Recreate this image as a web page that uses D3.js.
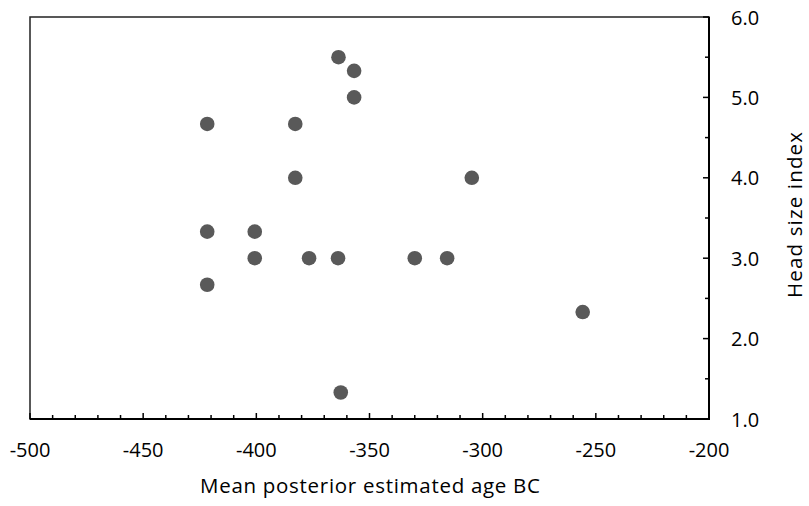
<!DOCTYPE html>
<html>
<head>
<meta charset="utf-8">
<script src="https://cdn.jsdelivr.net/npm/d3@7"></script>
<style>
  html, body { margin: 0; padding: 0; background: #fff; }
  text { font-family: "Open Sans", sans-serif; fill: #000; }
</style>
</head>
<body>
<svg id="chart" width="809" height="506"></svg>
<script>
// Data
const ageBC = [-363.7, -356.8, -356.8, -421.7, -382.8, -382.8, -304.8, -421.7, -400.7, -400.7, -376.7, -363.9, -330.0, -315.7, -421.7, -255.8, -362.7];
const headSize = [5.5, 5.33, 5.0, 4.67, 4.67, 4.0, 4.0, 3.33, 3.33, 3.0, 3.0, 3.0, 3.0, 3.0, 2.67, 2.33, 1.33];
const xTicks = [-500, -450, -400, -350, -300, -250, -200];
const yTicks = [1, 2, 3, 4, 5, 6];
const xTitle = "Mean posterior estimated age BC";
const yTitle = "Head size index";

(function () {
const svg = d3.select("#chart");
const pl = 30, pr = 709, pt = 17, pb = 419;

const x = d3.scaleLinear().domain([-500, -200]).range([pl, pr]);
const y = d3.scaleLinear().domain([1, 6]).range([pb, pt]);

// frame
svg.append("rect")
  .attr("x", pl).attr("y", pt)
  .attr("width", pr - pl).attr("height", pb - pt)
  .attr("fill", "none").attr("stroke", "#222").attr("stroke-width", 1.5);

// X ticks (major every 50, minor every 10) pointing inward
const xMinor = d3.range(-500, -199, 10);
svg.append("g").selectAll("line").data(xMinor).join("line")
  .attr("x1", d => x(d)).attr("x2", d => x(d))
  .attr("y1", pb).attr("y2", d => pb - (d % 50 === 0 ? 6 : 4))
  .attr("stroke", "#000").attr("stroke-width", 1.5);

// Y ticks (major every 1, minor every 0.5) pointing inward from right axis
const yMinor = d3.range(1, 6.01, 0.5);
svg.append("g").selectAll("line").data(yMinor).join("line")
  .attr("x1", pr).attr("x2", d => pr - (Math.abs(d - Math.round(d)) < 1e-6 ? 6 : 4))
  .attr("y1", d => y(d)).attr("y2", d => y(d))
  .attr("stroke", "#000").attr("stroke-width", 1.5);

// Axis lines
svg.append("line").attr("x1", pl).attr("x2", pr + 1).attr("y1", pb).attr("y2", pb)
  .attr("stroke", "#000").attr("stroke-width", 2);
svg.append("line").attr("x1", pr).attr("x2", pr).attr("y1", pt).attr("y2", pb + 1)
  .attr("stroke", "#000").attr("stroke-width", 2);

// X tick labels
svg.append("g").selectAll("text").data(xTicks).join("text")
  .attr("x", d => x(d)).attr("y", 456.5)
  .attr("text-anchor", "middle").attr("font-size", 20)
  .text(d => d);

// Y tick labels
svg.append("g").selectAll("text").data(yTicks).join("text")
  .attr("x", 731).attr("y", d => y(d) + 7.5)
  .attr("text-anchor", "start").attr("font-size", 20)
  .text(d => d3.format(".1f")(d));

// Titles
svg.append("text").attr("x", 370).attr("y", 493)
  .attr("text-anchor", "middle").attr("font-size", 20.5)
  .attr("textLength", 340).attr("lengthAdjust", "spacing").text(xTitle);
svg.append("text")
  .attr("transform", "translate(802,215) rotate(-90)")
  .attr("text-anchor", "middle").attr("font-size", 20.5)
  .attr("textLength", 166).attr("lengthAdjust", "spacing").text(yTitle);

// Points
const pts = ageBC.map((a, i) => ({a, h: headSize[i]}));
svg.append("g").selectAll("circle").data(pts).join("circle")
  .attr("cx", d => x(d.a)).attr("cy", d => y(d.h)).attr("r", 7.3)
  .attr("fill", "#595959");
})();
</script>
</body>
</html>
